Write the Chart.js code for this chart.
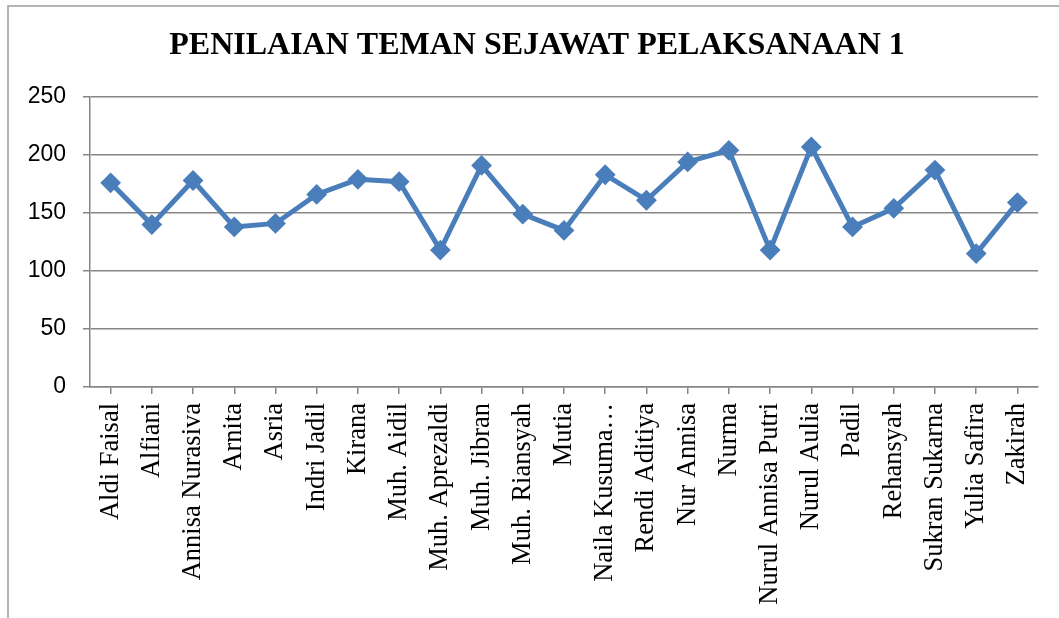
<!DOCTYPE html>
<html>
<head>
<meta charset="utf-8">
<script src="https://cdn.jsdelivr.net/npm/chart.js@4"></script>
<style>
  html, body { margin: 0; padding: 0; background: #fff; }
  #wrap { width: 1059px; height: 618px; }
</style>
</head>
<body>
<div id="wrap"><canvas id="chart" width="1059" height="618"></canvas></div>
<script>
// data
const names = [
  'Aldi Faisal', 'Alfiani', 'Annisa Nurasiva', 'Arnita', 'Asria', 'Indri Jadil',
  'Kirana', 'Muh. Aidil', 'Muh. Aprezaldi', 'Muh. Jibran', 'Muh. Riansyah', 'Mutia',
  'Naila Kusuma…', 'Rendi Aditiya', 'Nur Annisa', 'Nurma', 'Nurul Annisa Putri',
  'Nurul Aulia', 'Padil', 'Rehansyah', 'Sukran Sukarna', 'Yulia Safira', 'Zakirah'
];
const scores = [
  176, 140, 178, 138, 141, 166,
  179, 177, 118, 191, 149, 135,
  183, 161, 194, 204, 118,
  207, 138, 154, 187, 115, 159
];
const yTicks = [0, 50, 100, 150, 200, 250];
const chartTitle = 'PENILAIAN TEMAN SEJAWAT PELAKSANAAN 1';

const gridGray = '#868686';
const blue = '#4a7ebb';

// frame of the chart object (only left and top edges show) + the title,
// which in the original is centred a bit right of the canvas middle
const framePlugin = {
  id: 'frame',
  beforeDraw(chart) {
    const ctx = chart.ctx;
    ctx.save();
    ctx.fillStyle = '#fff';
    ctx.fillRect(0, 0, chart.width, chart.height);
    ctx.strokeStyle = '#9c9c9c';
    ctx.lineWidth = 1.5;
    ctx.strokeRect(8, 6, chart.width + 20, chart.height + 20);

    ctx.fillStyle = '#000';
    ctx.font = "bold 32px 'Liberation Serif', 'Times New Roman', serif";
    ctx.textAlign = 'center';
    ctx.textBaseline = 'middle';
    const cx = (chart.chartArea.left - 54 + chart.chartArea.right) / 2;
    ctx.fillText(chartTitle, cx, 46);
    ctx.restore();
  }
};

new Chart(document.getElementById('chart'), {
  type: 'line',
  data: {
    labels: names,
    datasets: [{
      data: scores,
      borderColor: blue,
      backgroundColor: blue,
      borderWidth: 5,
      pointStyle: 'rectRot',
      pointRadius: 9,
      pointBorderWidth: 2,
      pointBackgroundColor: blue,
      pointBorderColor: blue,
      tension: 0
    }]
  },
  options: {
    responsive: false,
    animation: false,
    layout: { padding: { left: 0, right: 21, top: 97, bottom: 0 } },
    plugins: {
      legend: { display: false },
      tooltip: { enabled: false },
      title: { display: false }
    },
    scales: {
      x: {
        offset: true,
        grid: { display: true, drawOnChartArea: false, drawTicks: true, tickLength: 7, color: gridGray, lineWidth: 1.5 },
        border: { color: gridGray, width: 1.5 },
        ticks: {
          autoSkip: false,
          minRotation: 90,
          maxRotation: 90,
          padding: 9,
          color: '#000',
          font: { family: "'Liberation Serif', 'Times New Roman', serif", size: 26.5 }
        },
        afterFit(scale) { scale.height = 231; }
      },
      y: {
        min: 0,
        max: 250,
        afterBuildTicks(scale) { scale.ticks = yTicks.map(v => ({ value: v })); },
        grid: { color: gridGray, lineWidth: 1.5, tickLength: 7 },
        border: { color: gridGray, width: 1.5 },
        ticks: {
          padding: 17,
          color: '#000',
          font: { family: "'Liberation Sans', Arial, sans-serif", size: 23 }
        },
        afterFit(scale) { scale.width = 90; }
      }
    }
  },
  plugins: [framePlugin]
});
</script>
</body>
</html>
